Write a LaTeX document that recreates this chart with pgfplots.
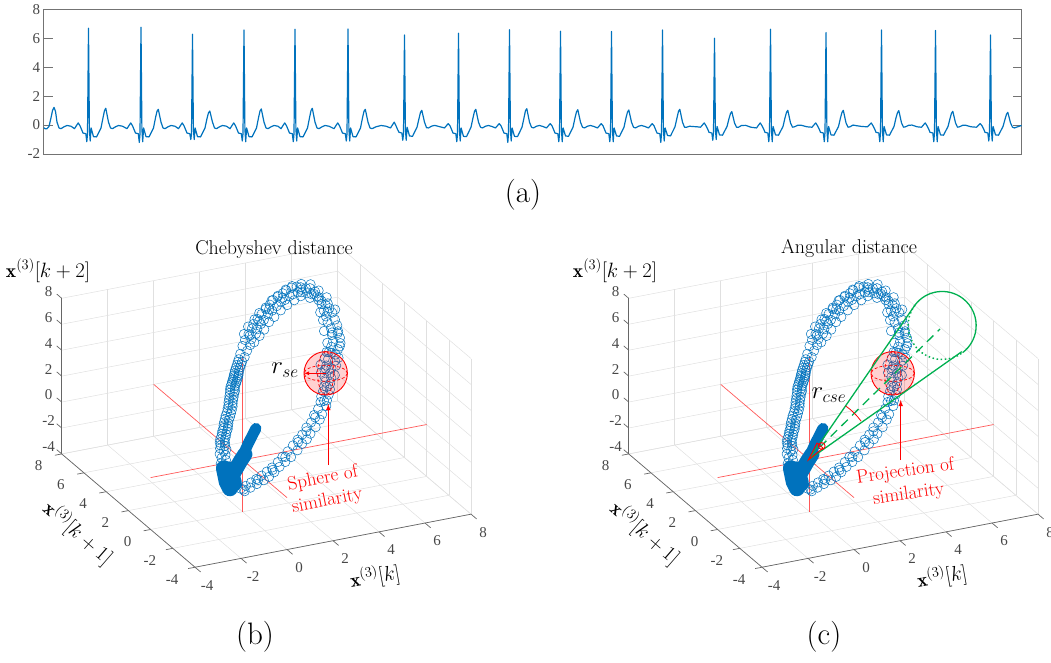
\documentclass[border=0pt]{standalone}
\usepackage{fontspec}
\usepackage{pgfplots}
\usepackage{pgfplotstable}
\pgfplotsset{compat=1.18}
\newfontfamily\tnr{Liberation Serif}
\definecolor{mblue}{HTML}{0072BD}
\definecolor{cgreen}{HTML}{00B050}
\pgfplotstableread{
x y z
-0.85 .20 -.13
-0.62 .22 .05
-0.80 .24 .25
-0.62 .26 .40
-0.86 .28 .55
-0.68 .30 .70
-0.56 .30 .80
-0.82 .33 .92
-0.60 .35 1.02
-0.78 .37 1.12
-0.58 .38 1.22
-0.80 .40 1.32
-0.58 .42 1.42
-0.76 .44 1.52
-0.52 .45 1.60
-0.70 .47 1.70
-0.48 .48 1.78
-0.66 .50 1.88
-0.44 .52 1.96
-0.62 .54 2.05
-0.38 .55 2.12
-0.56 .57 2.22
-0.36 .58 2.30
-0.54 .60 2.40
-0.32 .62 2.48
-0.50 .64 2.60
-0.28 .66 2.70
-0.44 .69 2.80
-0.20 .71 2.88
-0.38 .74 3.00
-0.14 .76 3.08
-0.30 .79 3.20
-0.08 .81 3.28
-0.24 .85 3.42
-0.02 .86 3.50
-0.18 .90 3.60
0.02 .94 3.66
-0.14 .98 3.76
0.08 1.02 3.84
-0.08 1.06 3.94
0.14 1.10 4.00
-0.02 1.14 4.12
0.20 1.18 4.16
0.04 1.22 4.28
0.28 1.26 4.30
0.08 1.30 4.46
0.30 1.34 4.44
0.14 1.38 4.60
0.36 1.42 4.55
0.22 1.46 4.68
0.44 1.50 4.65
0.28 1.54 4.80
0.50 1.58 4.74
0.36 1.62 4.88
0.58 1.66 4.82
0.42 1.70 4.98
0.64 1.74 4.90
0.48 1.78 5.06
0.70 1.82 4.98
0.54 1.86 5.14
0.76 1.92 5.05
0.62 1.98 5.22
0.84 2.04 5.14
0.72 2.10 5.32
0.94 2.16 5.24
0.82 2.22 5.42
1.04 2.28 5.34
0.92 2.34 5.54
1.14 2.40 5.44
1.02 2.46 5.62
1.32 2.55 5.62
1.18 2.65 5.85
1.55 2.80 5.85
1.42 2.95 6.15
1.80 3.05 6.02
1.65 3.20 6.35
2.00 3.35 6.18
1.95 3.50 6.50
2.32 3.60 6.32
2.22 3.75 6.65
2.50 3.85 6.42
2.40 4.00 6.75
2.80 4.15 6.50
2.70 4.25 6.85
3.05 4.40 6.55
3.00 4.50 6.95
3.35 4.65 6.70
3.30 4.75 7.05
3.65 4.90 6.70
3.60 5.00 7.10
3.95 5.10 6.80
3.85 5.25 7.20
4.25 5.35 6.85
4.15 5.45 7.20
4.50 5.50 6.80
4.45 5.60 7.25
4.80 5.70 6.85
4.70 5.80 7.25
5.00 5.85 6.80
5.00 5.95 7.25
5.30 6.00 6.75
5.25 6.00 7.20
5.50 6.05 6.65
5.45 6.05 7.05
5.75 6.10 6.45
5.70 6.10 6.85
5.95 6.10 6.30
5.90 6.15 6.75
6.15 6.05 6.10
6.10 6.10 6.45
6.35 6.05 5.70
6.25 6.05 6.00
6.60 6.00 5.45
6.35 6.05 5.45
6.65 5.95 5.10
6.38 5.90 5.05
6.70 5.80 4.85
6.40 5.75 4.70
6.72 5.60 4.45
6.35 5.50 4.45
6.70 5.35 4.20
6.40 5.30 4.10
6.62 5.10 3.95
6.30 5.00 3.85
6.60 4.90 3.60
6.25 4.80 3.50
6.50 4.65 3.40
6.05 4.55 3.35
6.30 4.45 3.15
5.85 4.35 3.15
6.10 4.25 2.95
5.70 4.10 2.85
5.95 4.00 2.70
5.50 3.85 2.60
5.65 3.70 2.45
5.30 3.60 2.50
5.50 3.50 2.25
5.20 3.40 2.15
5.45 3.30 2.05
5.15 3.20 1.95
5.30 3.10 1.80
5.00 3.00 1.80
5.20 2.90 1.55
4.85 2.80 1.60
5.05 2.70 1.35
4.65 2.55 1.45
4.85 2.45 1.15
4.50 2.30 1.25
4.70 2.20 0.95
4.30 2.10 0.95
4.40 1.95 0.60
4.00 1.85 0.75
4.20 1.75 0.40
3.75 1.60 0.45
3.90 1.50 0.10
3.45 1.40 0.30
3.55 1.25 -0.10
3.15 1.15 0.05
3.30 1.05 -0.30
2.85 0.95 -0.10
3.00 0.85 -0.40
2.55 0.75 -0.30
2.70 0.65 -0.65
2.25 0.60 -0.55
2.35 0.50 -0.95
1.95 0.45 -0.75
2.05 0.40 -1.15
1.70 0.35 -1.00
1.75 0.30 -1.35
1.40 0.25 -1.25
1.45 0.15 -1.55
1.10 0.10 -1.35
1.15 0.00 -1.70
0.80 -0.05 -1.45
0.85 -0.15 -1.75
0.50 -0.20 -1.50
0.50 -0.25 -1.85
0.20 -0.35 -1.55
0.15 -0.40 -1.90
-0.10 -0.50 -1.60
-0.15 -0.50 -2.00
-0.35 -0.55 -1.70
1.70 3.40 6.65
2.10 3.30 5.95
2.05 3.75 6.85
2.50 3.65 6.05
2.00 3.50 6.35
2.50 4.10 7.00
2.85 3.95 6.20
2.85 4.40 7.15
3.25 4.35 6.35
2.75 4.20 6.70
3.25 4.65 7.25
3.60 4.60 6.45
3.70 5.05 7.35
4.05 4.95 6.55
3.50 4.85 6.90
4.10 5.30 7.40
4.50 5.30 6.55
4.60 5.65 7.45
4.95 5.60 6.55
4.40 5.50 7.00
5.00 5.90 7.40
5.40 5.95 6.45
5.50 6.10 7.25
5.85 6.05 6.10
5.45 6.00 6.90
5.95 6.20 7.00
6.25 6.10 5.75
6.30 6.20 6.40
6.55 6.10 5.30
6.05 6.10 6.30
6.60 6.10 5.85
6.20 5.85 5.00
6.85 5.85 5.00
6.25 5.70 4.50
6.50 5.80 5.00
6.10 5.30 4.00
6.55 5.00 3.90
6.05 4.90 3.40
6.35 5.10 3.95
6.40 4.50 3.30
5.80 4.45 3.10
6.15 4.10 2.80
5.55 4.10 2.95
5.95 4.30 3.10
5.95 3.90 2.40
5.25 3.85 2.75
5.70 3.50 2.05
5.10 3.50 2.45
5.40 3.70 2.50
5.10 3.00 1.70
4.70 2.40 1.20
4.05 1.85 0.55
3.40 1.30 0.10
2.85 0.90 -0.25
2.10 0.50 -0.85
1.40 0.20 -1.40
0.60 -0.15 -1.65
-0.20 -0.50 -1.85
}\ringdata

% shared axis style
\pgfplotsset{
  cubeaxis/.style={
    x={(23pt,4.42pt)},y={(-11.11pt,9.44pt)},z={(0pt,12.97pt)},
    xmin=-4,xmax=8,ymin=-4,ymax=8,zmin=-4,zmax=8,
    xtick={-4,-2,0,2,4,6,8},ytick={-4,-2,0,2,4,6,8},ztick={-4,-2,0,2,4,6,8},
    grid=major,major grid style={black!12,line width=.5pt},
    axis line style={draw=none},
    major tick length=0pt,tick style={draw=none},
    tick label style={font=\tnr\fontsize{15}{15}\selectfont,text=black!72},
    xticklabel style={anchor=center,xshift=12pt,yshift=-18pt},
    yticklabel style={anchor=center,xshift=-23pt,yshift=-12pt},
    zticklabel style={anchor=center,xshift=-13pt,yshift=7pt},
    /pgf/number format/assume math mode=true,
    clip=false,
  },
  ringmarks/.style={only marks,mark=o,mark size=4.7pt,mark options={draw=mblue,line width=.5pt}},
  redaxis/.style={red,draw opacity=.65,line width=.7pt},
  frame3d/.style={black!60,line width=.7pt},
}
\newcommand{\cubecontents}{%
  \addplot3[frame3d] coordinates {(-4,8,-4)(-4,8,8)};
  \addplot3[frame3d] coordinates {(-4,8,-4)(-4,-4,-4)};
  \addplot3[frame3d] coordinates {(-4,-4,-4)(8,-4,-4)};
  \pgfplotsinvokeforeach{-4,-2,0,2,4,6,8}{
    \addplot3[frame3d] coordinates {(##1,-4,-4)(##1,-4.5,-4)};
    \addplot3[frame3d] coordinates {(-4,##1,-4)(-4.3,##1,-4)};
    \addplot3[frame3d] coordinates {(-4,8,##1)(-4,8.45,##1)};
  }
  \addplot3[redaxis] coordinates {(-4,0,0)(8,0,0)};
  \addplot3[redaxis] coordinates {(0,8,0)(0,-4,0)};
  \addplot3[redaxis] coordinates {(0,0,-4)(0,0,8)};
  \addplot3[ringmarks] table[x=x,y=y,z=z] {\ringdata};
  \addplot3[mblue,line width=11pt,line cap=round] coordinates {(0.58,0,2.23)(0.25,0,1.2)(-0.11,0,-0.1)};
  \addplot3[mblue,line width=15pt,line cap=round] coordinates {(0.1,0,0.4)(-0.11,0,-0.1)(-0.4,0,-0.9)};
  \addplot3[mblue,line width=16pt,line cap=round] coordinates {(-0.81,0,-0.37)(-0.69,0,-1.44)(-0.55,0,-2.0)};
  \addplot3[mblue,line width=17pt,line cap=round] coordinates {(-0.55,0,-0.59)(-0.4,0,-1.67)};
}
\begin{document}
\begin{tikzpicture}
\path[use as bounding box] (0,0) rectangle (1051pt,662pt);
% panel a
\begin{axis}[at={(43.7pt,508pt)},anchor=south west,width=978pt,height=144.7pt,scale only axis,
  xmin=43.7,xmax=1021.7,ymin=-2,ymax=8,xtick=\empty,ytick={-2,0,2,4,6,8},
  axis line style={black!55,line width=.7pt},tick style={black!55,line width=.6pt},major tick length=9pt,
  tick label style={font=\tnr\fontsize{15}{15}\selectfont,text=black!72},
  /pgf/number format/assume math mode=true,tickpos=both,yticklabel pos=left]
\addplot[mblue,line width=1.2pt,line join=round] coordinates {
(43.7,-.18)(45,-.25)(47,-.25)(49,-.1)(51,.5)(52.5,1.0)(54,1.22)(55.5,.95)(57,.2)(59,-.2)(61,-.25)(64,-.12)(67,-.03)(71,-.08)
(74.5,-.25)(78.2,.15)(80,-.05)(81.5,-.3)(83,-.55)(85.8,-.6)(86.8,-1.15)(87.5,-.6)(88.5,6.69)(89.4,-.3)(90.2,-1.1)(91.1,-.2)(93.5,-.8)(96.5,-.82)(101,-.2)(103,.5)(104.5,1.0)(105.8,1.16)(108.5,.2)(110.5,-.2)(112.5,-.25)(115.5,-.12)(118.5,-.03)(122.5,-.08)
(127,-.25)(130.7,.15)(132.5,-.05)(134,-.3)(135.5,-.55)(138.3,-.6)(139.3,-1.2)(140,-.6)(141,6.76)(141.9,-.3)(142.7,-1.15)(143.6,-.2)(146,-.8)(149,-.82)(153.5,-.2)(155.5,.5)(157,.95)(158.3,1.09)(161,.2)(163,-.2)(165,-.25)(168,-.12)(171,-.03)(175,-.08)
(178.5,-.25)(182.2,.15)(184,-.05)(185.5,-.3)(187,-.55)(189.8,-.6)(190.8,-1.0)(191.5,-.6)(192.5,6.27)(193.4,-.3)(194.2,-1.0)(195.1,-.2)(197.5,-.8)(200.5,-.82)(205,-.2)(207,.45)(208.5,.85)(209.8,.97)(212.5,.2)(214.5,-.2)(216.5,-.25)(219.5,-.12)(222.5,-.03)(226.5,-.08)
(230,-.25)(233.7,.15)(235.5,-.05)(237,-.3)(238.5,-.55)(241.3,-.6)(242.3,-1.1)(243,-.6)(244,6.57)(244.9,-.3)(245.7,-1.15)(246.6,-.2)(249,-.8)(252,-.82)(256.5,-.2)(258.5,.5)(260,.97)(261.3,1.11)(264,.2)(266,-.2)(268,-.25)(271,-.12)(274,-.03)(278,-.08)
(281,-.25)(284.7,.15)(286.5,-.05)(288,-.3)(289.5,-.55)(292.3,-.6)(293.3,-1.15)(294,-.6)(295,6.62)(295.9,-.3)(296.7,-1.1)(297.6,-.2)(300,-.8)(303,-.82)(307.5,-.2)(309.5,.5)(311,1.0)(312.3,1.16)(315,.2)(317,-.2)(319,-.25)(322,-.12)(325,-.03)(329,-.08)
(334,-.25)(337.7,.15)(339.5,-.05)(341,-.3)(342.5,-.55)(345.3,-.6)(346.3,-1.1)(347,-.6)(348,6.64)(348.9,-.3)(349.7,-1.1)(350.6,-.2)(353,-.8)(356,-.82)(360.5,-.2)(362.5,.5)(364,.95)(365.3,1.09)(368,.2)(370,-.2)(372,-.25)(376,-.12)(381,-.03)(386,-.08)
(390.5,-.2)(394.2,.2)(396,-.05)(397.5,-.3)(399,-.5)(401.8,-.55)(402.8,-1.05)(403.5,-.6)(404.5,6.23)(405.4,-.3)(406.2,-1.05)(407.1,-.15)(409.5,-.75)(412.5,-.78)(417,-.15)(419,.45)(420.5,.88)(421.8,1.02)(424.5,.2)(426.5,-.18)(428.5,-.2)(431.5,-.08)(434.5,-.02)(439,-.1)
(444.5,-.2)(448.2,.1)(450,-.05)(451.5,-.3)(453,-.55)(455.8,-.6)(456.8,-1.15)(457.5,-.6)(458.5,6.34)(459.4,-.3)(460.2,-1.1)(461.1,-.2)(463.5,-.78)(466.5,-.8)(471,-.15)(473,.5)(474.5,.95)(475.8,1.09)(478.5,.2)(480.5,-.15)(482.5,-.2)(485.5,-.08)(488.5,-.03)(492,-.1)
(495.5,-.2)(499.2,.1)(501,-.05)(502.5,-.3)(504,-.55)(506.8,-.6)(507.8,-1.2)(508.5,-.6)(509.5,6.59)(510.4,-.3)(511.2,-1.1)(512.1,-.2)(514.5,-.78)(517.5,-.8)(522,-.15)(524,.5)(525.5,1.0)(526.8,1.13)(529.5,.2)(531.5,-.15)(533.5,-.2)(536.5,-.08)(539.5,-.03)(543,-.1)
(546.5,-.2)(550.2,.1)(552,-.05)(553.5,-.3)(555,-.55)(557.8,-.6)(558.8,-1.15)(559.5,-.6)(560.5,6.48)(561.4,-.3)(562.2,-1.15)(563.1,-.2)(565.5,-.75)(568.5,-.78)(573,-.15)(575,.5)(576.5,.92)(577.8,1.06)(580.5,.2)(582.5,-.15)(584.5,-.2)(587.5,-.08)(590.5,-.03)(594,-.1)
(597.5,-.2)(601.2,.1)(603,-.05)(604.5,-.3)(606,-.55)(608.8,-.6)(609.8,-1.15)(610.5,-.6)(611.5,6.46)(612.4,-.3)(613.2,-1.15)(614.1,-.2)(616.5,-.75)(619.5,-.78)(624,-.15)(626,.5)(627.5,.9)(628.8,1.04)(631.5,.2)(633.5,-.15)(635.5,-.2)(638.5,-.08)(641.5,-.03)(645,-.1)
(648.5,-.2)(652.2,.1)(654,-.05)(655.5,-.3)(657,-.55)(659.8,-.6)(660.8,-1.2)(661.5,-.6)(662.5,6.57)(663.4,-.3)(664.2,-1.1)(665.1,-.2)(667.5,-.72)(670.5,-.75)(675,-.12)(677,.5)(678.5,.95)(679.8,1.09)(682.5,.2)(684.5,-.15)(686.5,-.15)(689.5,-.08)(692.5,-.1)(697,-.12)
(700.5,-.15)(704.2,.15)(706,-.05)(707.5,-.25)(709,-.5)(711.8,-.55)(712.8,-1.05)(713.5,-.5)(714.5,6.0)(715.4,-.3)(716.2,-1.0)(717.1,-.1)(719.5,-.68)(722.5,-.7)(727,-.1)(729,.45)(730.5,.8)(731.8,.93)(734.5,.15)(736.5,-.15)(738.5,-.15)(741.5,-.03)(745.5,-.02)(751,-.15)
(756.5,-.2)(760.2,.15)(762,-.05)(763.5,-.25)(765,-.5)(767.8,-.55)(768.8,-1.15)(769.5,-.5)(770.5,6.62)(771.4,-.3)(772.2,-1.15)(773.1,-.1)(775.5,-.68)(778.5,-.7)(783,-.1)(785,.5)(786.5,.88)(787.8,1.02)(790.5,.15)(792.5,-.15)(794.5,-.12)(797.5,-.02)(801.5,-.02)(807,-.12)
(812,-.15)(815.7,.15)(817.5,-.05)(819,-.25)(820.5,-.5)(823.3,-.55)(824.3,-1.15)(825,-.5)(826,6.39)(826.9,-.3)(827.7,-1.15)(828.6,-.1)(831,-.68)(834,-.7)(838.5,-.1)(840.5,.5)(842,.88)(843.3,1.02)(846,.15)(848,-.15)(850,-.12)(853,0)(857,-.05)(862,-.1)
(867.5,-.12)(871.2,.15)(873,-.05)(874.5,-.25)(876,-.5)(878.8,-.55)(879.8,-1.15)(880.5,-.5)(881.5,6.57)(882.4,-.3)(883.2,-1.15)(884.1,-.1)(886.5,-.68)(889.5,-.7)(894,-.1)(896,.5)(897.5,.86)(898.8,1.0)(901.5,.15)(903.5,-.15)(905.5,-.12)(908.5,-.02)(912,0)(917,-.12)
(921.5,-.15)(925.2,.15)(927,-.05)(928.5,-.25)(930,-.5)(932.8,-.55)(933.8,-1.15)(934.5,-.5)(935.5,6.53)(936.4,-.3)(937.2,-1.15)(938.1,-.1)(940.5,-.68)(943.5,-.7)(948,-.1)(950,.45)(951.5,.82)(952.8,.95)(955.5,.15)(957.5,-.15)(959.5,-.12)(962.5,-.02)(966,-.02)(971,-.12)
(976.5,-.15)(980.2,.1)(982,-.05)(983.5,-.25)(985,-.5)(987.8,-.55)(988.8,-1.1)(989.5,-.5)(990.5,6.23)(991.4,-.3)(992.2,-1.1)(993.1,-.1)(995.5,-.68)(998.5,-.7)(1003,-.1)(1005,.4)(1006.5,.75)(1007.8,.88)(1010.5,.15)(1012.5,-.15)(1014.5,-.2)(1017.5,-.12)(1020.5,-.05)(1021.7,-.03)
};
\end{axis}
% panel b
\begin{axis}[at={(242.6pt,202.1pt)},anchor=origin,cubeaxis]
\cubecontents
\end{axis}
% panel c
\begin{axis}[at={(809.6pt,202.1pt)},anchor=origin,cubeaxis]
\cubecontents
\end{axis}
% annotations in pixel coordinates
\begin{scope}[x=1pt,y=-1pt,shift={(0pt,662pt)}]
\node at (523,195) {\fontsize{31}{31}\selectfont (a)};
\node at (255,637) {\fontsize{31}{31}\selectfont (b)};
\node at (824,637) {\fontsize{31}{31}\selectfont (c)};
\node at (274,249.5) {\fontsize{20}{20}\selectfont Chebyshev distance};
\node at (849,248.5) {\fontsize{20}{20}\selectfont Angular distance};
\foreach \dx in {0,567}{
  \begin{scope}[shift={(\dx pt,0pt)}]
  \node at (48,270.5) {\fontsize{19.5}{20}\selectfont $\mathbf{x}^{(3)}[k+2]$};
  \node[rotate=-41] at (78,533) {\fontsize{19.5}{20}\selectfont $\mathbf{x}^{(3)}[k+1]$};
  \node[rotate=10] at (375,577) {\fontsize{19.5}{20}\selectfont $\mathbf{x}^{(3)}[k]$};
  \end{scope}
}
% spheres
\foreach \cx in {325.7,892.7}{
  \fill[red,opacity=.18] (\cx,373.3) circle (21.7);
  \draw[red,line width=.9pt] (\cx,373.3) circle (21.7);
  \draw[red,line width=.7pt,densely dashed] (\cx,373.3) ellipse (21.7 and 8);
  \draw[red,line width=.7pt,densely dashed] (\cx,373.3) ellipse (8 and 21.7);
}
\draw[red,line width=.8pt,-latex] (325.7,373.3) -- (304,373.3);
\node at (285,370) {\fontsize{24}{24}\selectfont $r_{se}$};
\draw[red,line width=1.1pt,-{latex}] (328.3,465) -- (328.3,404);
\node[red,rotate=11,align=center,font=\fontsize{19}{23}\selectfont] at (325,490) {Sphere of\\similarity};
% cone c
\draw[cgreen,line width=1.3pt] (808.3,460) -- (915,305);
\draw[cgreen,line width=1.3pt] (808.3,460) -- (961.7,351.7);
\draw[cgreen,line width=1.3pt,dash pattern=on 9pt off 6pt] (820,447) -- (940,329);
\draw[cgreen,line width=1.3pt] (915,305) arc[start angle=217,delta angle=196,radius=34];
\draw[cgreen,line width=1.5pt,dash pattern=on 1.5pt off 2.6pt] (915,305) arc[start angle=217,delta angle=-164,radius=34];
\draw[red,line width=.8pt] (845.7,406) arc[start angle=-55,end angle=-36,radius=65];
\draw[red,line width=.9pt] (808.3,460) -- (817,443) -- (823,448) -- cycle;
\draw[red,line width=.9pt] (821.7,446) circle (3.4);
\node at (829,395) {\fontsize{23}{23}\selectfont $r_{cse}$};
\draw[red,line width=1.1pt,-{latex}] (900.7,460) -- (900.7,400);
\node[red,rotate=8,align=center,font=\fontsize{19}{23}\selectfont] at (907,483) {Projection of\\similarity};
\end{scope}
\end{tikzpicture}
\end{document}
